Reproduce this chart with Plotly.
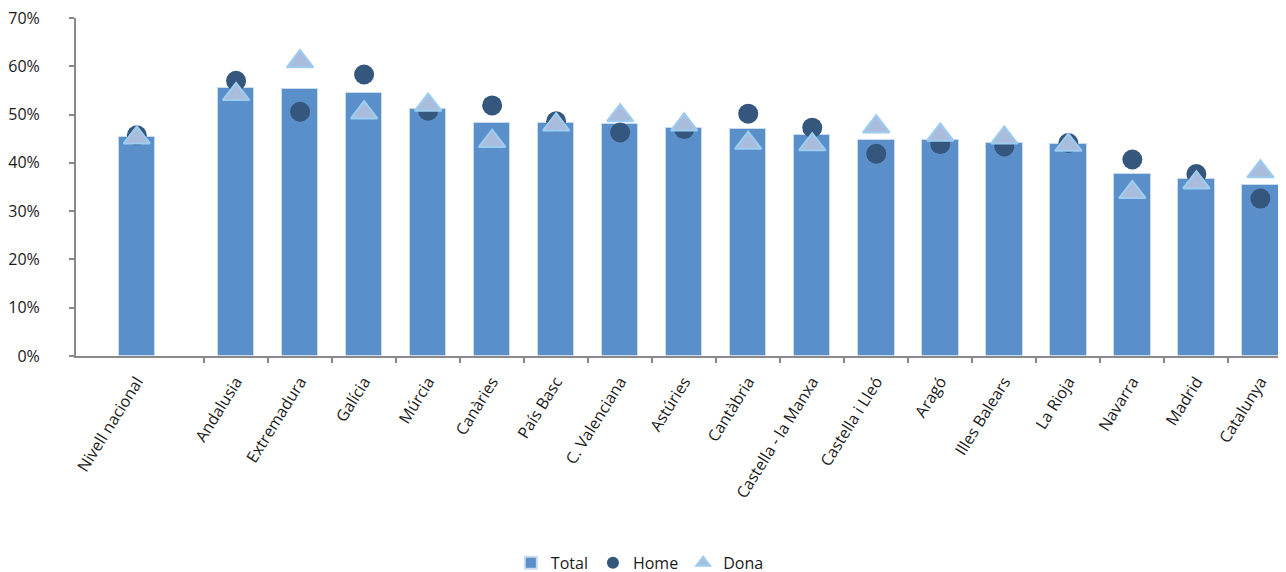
import plotly.graph_objects as go

national_label = "Nivell nacional"
regions = ["Andalusia", "Extremadura", "Galícia", "Múrcia", "Canàries", "País Basc",
           "C. Valenciana", "Astúries", "Cantàbria", "Castella - la Manxa", "Castella i Lleó",
           "Aragó", "Illes Balears", "La Rioja", "Navarra", "Madrid", "Catalunya"]

national_total = 45.4
national_home = 45.7
national_dona = 45.2

total = [55.5, 55.4, 54.5, 51.2, 48.2, 48.2, 48.0, 47.3, 47.1, 45.7, 44.7, 44.7, 44.1, 43.9, 37.7, 36.7, 35.4]
home = [57.0, 50.6, 58.3, 50.8, 51.9, 48.6, 46.3, 47.0, 50.2, 47.3, 41.9, 43.9, 43.4, 44.1, 40.7, 37.7, 32.6]
dona = [54.2, 61.0, 50.4, 52.0, 44.5, 47.9, 49.8, 47.9, 44.1, 43.8, 47.5, 45.8, 45.2, 43.7, 33.9, 35.9, 38.2]

y_ticks = [0, 10, 20, 30, 40, 50, 60, 70]

labels = [national_label] + regions
gap = 1.55  # blank space after the national column
xpos = [0.0] + [gap + i for i in range(len(regions))]
tot = [v / 100 for v in [national_total] + total]
hom = [v / 100 for v in [national_home] + home]
don = [v / 100 for v in [national_dona] + dona]

FONT = "'Open Sans', Lato, sans-serif"
AXIS = "#8a8a8a"

fig = go.Figure()
fig.add_trace(go.Bar(x=xpos, y=tot, name="Total", width=0.57,
                     marker=dict(color="#5b8fc9", line=dict(color="#c9dbef", width=1))))
fig.add_trace(go.Scatter(x=xpos, y=hom, name="Home", mode="markers",
                         marker=dict(symbol="circle", size=20, color="#35577d",
                                     line=dict(width=0))))
fig.add_trace(go.Scatter(x=xpos, y=don, name="Dona", mode="markers",
                         marker=dict(symbol="triangle-up", size=23, color="#a9bcdc",
                                     line=dict(color="#9ccdf0", width=2))))

fig.update_layout(
    width=1286, height=572,
    margin=dict(l=68, r=8, t=10, b=224, autoexpand=False),
    plot_bgcolor="white", paper_bgcolor="white",
    font=dict(family=FONT, size=16, color="#1a1a1a"),
    bargap=0,
    showlegend=True,
    legend=dict(orientation="h", x=0.466, xanchor="center", y=-0.612, yanchor="middle",
                font=dict(size=16), itemsizing="constant", itemwidth=30,
                traceorder="normal"),
    xaxis=dict(
        range=[-0.95, 17.95],
        tickmode="array", tickvals=xpos, ticktext=labels,
        tickangle=-58,
        ticks="outside", ticklen=8, tickcolor="rgba(0,0,0,0)",
        showline=True, linecolor=AXIS, linewidth=2,
        showgrid=False, zeroline=False,
        ticklabeloverflow="allow",
        minor=dict(tickmode="array", tickvals=[gap - 0.5 + i for i in range(len(regions))],
                   ticks="outside", ticklen=5, tickcolor=AXIS, tickwidth=2, showgrid=False),
    ),
    yaxis=dict(
        range=[0, 0.7001],
        tickmode="array", tickvals=[t / 100 for t in y_ticks],
        ticktext=[f"{t}%" for t in y_ticks],
        ticks="outside", ticklen=5, tickcolor=AXIS, tickwidth=2,
        showline=True, linecolor=AXIS, linewidth=2,
        showgrid=False, zeroline=False,
        ticklabeloverflow="allow",
        ticklabelstandoff=26,
    ),
)

fig.write_html("out.html")
